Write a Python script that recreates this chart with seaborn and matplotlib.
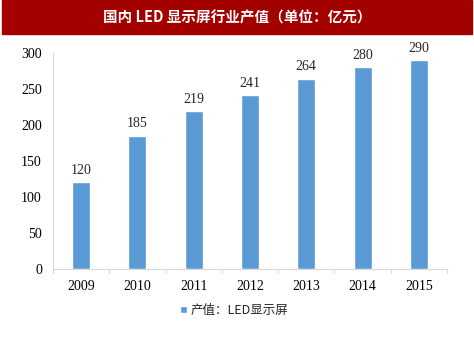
import matplotlib
matplotlib.use("Agg")
import matplotlib.pyplot as plt
import seaborn as sns
import pandas as pd
from matplotlib.patches import Rectangle

# datos del grafico
years = ["2009", "2010", "2011", "2012", "2013", "2014", "2015"]
values = [120, 185, 219, 241, 264, 280, 290]
title = "国内 LED 显示屏行业产值（单位：亿元）"
legend_label = "产值：LED显示屏"

sns.set_style("white")
plt.rcParams['font.family'] = ['Liberation Serif', 'Noto Sans CJK SC', 'DejaVu Sans']

df = pd.DataFrame({"year": years, "value": values})

fig = plt.figure(figsize=(4.74, 3.55), dpi=100)
ax = fig.add_axes([0.112, 0.242, 0.831, 0.61])

sns.barplot(data=df, x="year", y="value", color="#5B9BD5", width=0.32,
            saturation=1, ax=ax, label=legend_label)

for i, v in enumerate(values):
    ax.text(i, v + 7, str(v), ha="center", va="bottom", fontsize=10,
            family="Liberation Serif")

ax.set_ylim(0, 300)
ax.set_yticks(range(0, 301, 50))
ax.set_xlim(-0.5, len(years) - 0.5)
ax.set_xlabel("")
ax.set_ylabel("")
for s in ["top", "right"]:
    ax.spines[s].set_visible(False)
for s in ["left", "bottom"]:
    ax.spines[s].set_color("#D9D9D9")
    ax.spines[s].set_linewidth(0.8)
ax.tick_params(axis="both", labelsize=10, colors="#D9D9D9", labelcolor="black",
               length=3, width=0.8, direction="out")
ax.tick_params(axis="y", length=3, pad=5)
ax.tick_params(axis="x", length=0, pad=8)
# marcas entre categorias
for b in [i + 0.5 for i in range(-1, len(years))]:
    ax.plot([b, b], [0, -0.018], transform=ax.get_xaxis_transform(),
            color="#D9D9D9", lw=0.8, clip_on=False)

ax.legend(loc="upper center", bbox_to_anchor=(0.46, -0.11), frameon=False,
          handlelength=0.5, handleheight=0.5, handletextpad=0.3,
          prop={"family": "Noto Sans CJK SC", "size": 9})

# banda roja del titulo
fig.patches.append(Rectangle((0.004, 0.905), 0.992, 0.095, transform=fig.transFigure,
                             color="#A30000", zorder=0))
fig.text(0.5, 0.952, title, ha="center", va="center", color="white",
         fontsize=10.5, fontweight="bold", family=["Noto Sans CJK SC", "DejaVu Sans"])

fig.savefig("out.png", dpi=100)
